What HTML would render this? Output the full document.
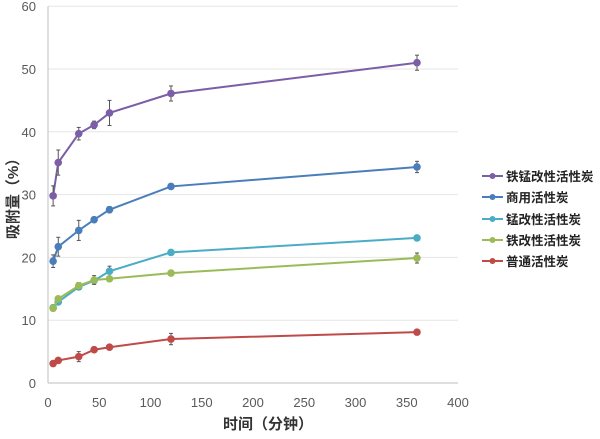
<!DOCTYPE html>
<html><head><meta charset="utf-8"><style>
body{margin:0;background:#fff;width:600px;height:434px;overflow:hidden}
text{font-family:"Liberation Sans","Noto Sans CJK SC",sans-serif}
</style></head><body>
<svg id="s" width="600" height="434" xmlns="http://www.w3.org/2000/svg"></svg>
<script>
const s=document.getElementById('s');
const X=v=>48+v*1.025, Y=v=>383-v*6.28;
let h='';
for(let v=0;v<=60;v+=10){h+=`<line x1="48" x2="458" y1="${Y(v)}" y2="${Y(v)}" stroke="${v?'#e6e6e6':'#bfbfbf'}" stroke-width="1"/>`;
h+=`<text x="36" y="${Y(v)+5}" font-size="13" fill="#595959" text-anchor="end">${v}</text>`;}
h+=`<line x1="48" x2="48" y1="${Y(60)}" y2="383" stroke="#bfbfbf"/>`;
for(let v=0;v<=400;v+=50)h+=`<text x="${X(v)}" y="407" font-size="13" fill="#595959" text-anchor="middle">${v}</text>`;
h+=`<text x="268" y="429" font-size="15" font-weight="bold" fill="#333" text-anchor="middle">时间（分钟）</text>`;
h+=`<text transform="translate(18,195) rotate(-90)" font-size="15" font-weight="bold" fill="#333" text-anchor="middle">吸附量（%）</text>`;
const xs=[5,10,30,45,60,120,360];
const S=[
["铁锰改性活性炭","#7b5ea7",[29.8,35.1,39.7,41.1,43,46.1,51],[1.6,2,1,0.6,2,1.2,1.2]],
["商用活性炭","#4a7ebb",[19.4,21.7,24.3,26,27.6,31.3,34.4],[1,1.5,1.6,0.4,0.5,0.3,0.9]],
["锰改性活性炭","#4bacc6",[12,12.9,15.3,16.3,17.8,20.8,23.1],[0.3,0.4,0.4,0.4,0.8,0.3,0.4]],
["铁改性活性炭","#9bbb59",[11.9,13.4,15.5,16.4,16.6,17.5,19.9],[0.3,0.4,0.5,0.7,0.4,0.3,0.8]],
["普通活性炭","#be4b48",[3.1,3.6,4.2,5.3,5.7,7.0,8.1],[0.3,0.3,0.8,0.3,0.3,0.9,0.4]]];
const ly=[176,197,219,240,261];
S.forEach((d,i)=>{
 const c=d[1];
 h+=`<polyline fill="none" stroke="${c}" stroke-width="2" points="${xs.map((x,j)=>X(x)+','+Y(d[2][j])).join(' ')}"/>`;
 xs.forEach((x,j)=>{const e=d[3][j],cx=X(x);
  h+=`<line x1="${cx}" x2="${cx}" y1="${Y(d[2][j]+e)}" y2="${Y(d[2][j]-e)}" stroke="#555" stroke-width="1"/><line x1="${cx-2}" x2="${cx+2}" y1="${Y(d[2][j]+e)}" y2="${Y(d[2][j]+e)}" stroke="#555"/><line x1="${cx-2}" x2="${cx+2}" y1="${Y(d[2][j]-e)}" y2="${Y(d[2][j]-e)}" stroke="#555"/>`;
  h+=`<circle cx="${cx}" cy="${Y(d[2][j])}" r="3.8" fill="${c}"/>`;});
 h+=`<line x1="482" x2="503" y1="${ly[i]}" y2="${ly[i]}" stroke="${c}" stroke-width="2"/><circle cx="492.5" cy="${ly[i]}" r="3" fill="${c}"/>`;
 h+=`<text x="506" y="${ly[i]+5}" font-size="12.5" font-weight="bold" fill="#222">${d[0]}</text>`;
});
s.innerHTML=h;
</script>
</body></html>
